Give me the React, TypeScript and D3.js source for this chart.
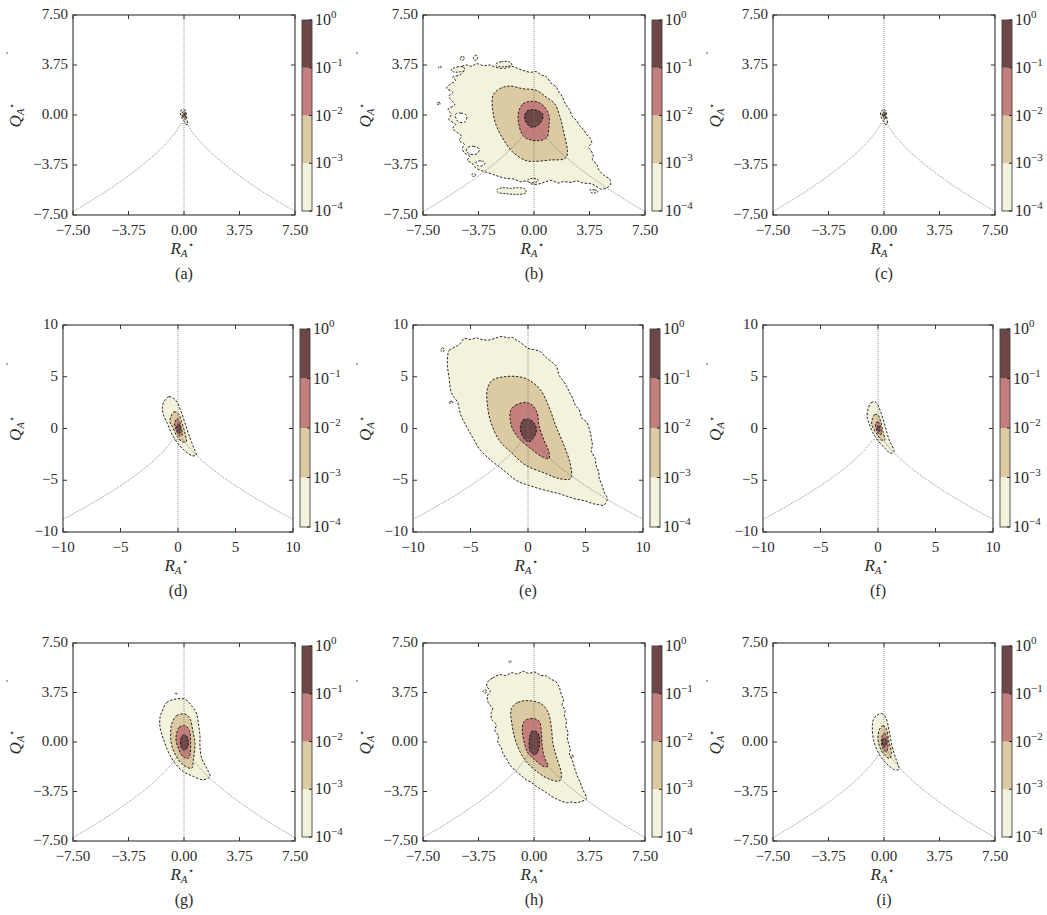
import React from "react";
import * as d3 from "d3";

type Pt = [number, number];

// ---- chart values -------------------------------------------------------
const panelLetters = ["a", "b", "c", "d", "e", "f", "g", "h", "i"];
const rowLimits = [7.5, 10, 7.5];
const rowTicks = [
  [-7.5, -3.75, 0, 3.75, 7.5],
  [-10, -5, 0, 5, 10],
  [-7.5, -3.75, 0, 3.75, 7.5],
];
const pdfLevels = [1e-4, 1e-3, 1e-2, 1e-1, 1];
const levelExponents = ["−4", "−3", "−2", "−1", "0"];
const levelColors = ["#f3f2dc", "#dccaa2", "#c47f7c", "#6d4747"];
const tailSamples = [40, 24, 40];

// (a)
const aL1: Pt[] = [[-0.2, 0.35], [0.0, 0.42], [0.12, 0.3], [0.15, 0.0], [0.2, -0.35], [0.25, -0.7], [0.15, -0.72], [0.0, -0.45], [-0.15, -0.2], [-0.25, 0.1]];
const aL2: Pt[] = [[-0.12, 0.2], [0.05, 0.25], [0.1, 0.0], [0.12, -0.35], [0.03, -0.3], [-0.1, -0.1]];
const aL3: Pt[] = [[-0.06, 0.1], [0.04, 0.12], [0.07, -0.1], [0.0, -0.18], [-0.06, -0.05]];
const aL4: Pt[] = [[-0.03, 0.05], [0.02, 0.05], [0.03, -0.05], [-0.02, -0.06]];

// (b)
const bL1: Pt[] = [[-5.8, 2.2], [-5.3, 2.6], [-5.5, 2.85], [-5.0, 3.0], [-4.75, 3.35], [-4.95, 3.55], [-4.6, 3.75], [-4.2, 3.65], [-3.9, 3.85], [-3.4, 3.7], [-3.0, 3.75], [-2.5, 3.55], [-2.0, 3.5], [-1.5, 3.65], [-1.0, 3.45], [-0.6, 3.3], [-0.25, 3.2], [0.15, 3.25], [0.5, 3.0], [0.85, 2.85], [1.15, 2.4], [1.5, 2.1], [1.7, 1.7], [1.9, 1.4], [2.05, 1.0], [2.2, 0.7], [2.45, 0.3], [2.55, -0.05], [2.85, -0.4], [3.1, -0.8], [3.35, -1.1], [3.55, -1.45], [3.8, -1.75], [3.9, -2.1], [3.7, -2.4], [3.8, -2.6], [4.0, -3.0], [3.95, -3.35], [4.25, -3.7], [4.35, -4.05], [4.7, -4.5], [5.1, -4.8], [5.2, -5.1], [4.95, -5.45], [4.5, -5.55], [4.15, -5.3], [3.8, -5.15], [3.3, -5.1], [2.9, -4.95], [2.5, -5.05], [2.0, -5.0], [1.6, -5.1], [1.2, -4.9], [0.8, -5.0], [0.4, -5.15], [-0.1, -5.2], [-0.5, -4.95], [-0.9, -5.0], [-1.4, -4.8], [-1.9, -4.75], [-2.4, -4.6], [-2.8, -4.45], [-3.2, -4.3], [-3.6, -4.15], [-3.95, -3.95], [-4.2, -3.6], [-4.5, -3.4], [-4.35, -3.1], [-4.7, -2.85], [-4.85, -2.5], [-4.7, -2.2], [-5.05, -1.9], [-4.9, -1.6], [-5.2, -1.3], [-5.5, -1.0], [-5.3, -0.7], [-5.75, -0.35], [-5.6, 0.05], [-5.8, 0.45], [-5.35, 0.75], [-5.5, 1.0], [-5.75, 1.4], [-5.5, 1.7], [-5.9, 2.0]];
const bL2: Pt[] = [[-2.77, 1.47], [-2.32, 1.97], [-1.64, 2.17], [-0.74, 1.97], [0.16, 1.85], [0.83, 1.34], [1.4, 0.84], [1.73, -0.04], [1.96, -1.04], [2.18, -3.18], [1.06, -3.38], [-0.07, -3.48], [-0.52, -3.43], [-1.42, -2.8], [-2.09, -1.8], [-2.55, -0.79], [-2.77, 0.21]];
const bL3: Pt[] = [[-0.97, 0.46], [-0.74, 0.84], [-0.29, 1.02], [0.27, 0.97], [0.72, 0.59], [1.01, -0.04], [1.01, -0.79], [0.88, -1.67], [0.38, -1.92], [-0.29, -1.85], [-0.74, -1.55], [-1.01, -0.79], [-1.08, -0.04]];
const bL4: Pt[] = [[-0.63, -0.04], [-0.47, 0.29], [-0.07, 0.41], [0.38, 0.26], [0.61, 0.01], [0.5, -0.49], [0.16, -0.84], [-0.18, -0.92], [-0.47, -0.67], [-0.61, -0.34]];
const bIslands: Pt[][] = [
  [[-2.6, 3.8], [-2.2, 4.0], [-1.6, 3.95], [-1.5, 3.75], [-2.0, 3.62], [-2.5, 3.66]],
  [[-5.6, 3.4], [-5.2, 3.6], [-4.75, 3.58], [-4.7, 3.35], [-5.1, 3.22], [-5.5, 3.25]],
  [[-4.1, 4.3], [-3.95, 4.5], [-3.8, 4.35], [-3.9, 4.1], [-4.05, 4.15]],
  [[-5.0, 4.3], [-4.8, 4.4], [-4.7, 4.2], [-4.9, 4.1]],
  [[-2.5, -5.6], [-2.1, -5.45], [-1.6, -5.5], [-1.1, -5.45], [-0.6, -5.55], [-0.55, -5.85], [-1.2, -5.95], [-1.9, -5.9], [-2.45, -5.8]],
  [[-0.4, -4.85], [0.0, -4.75], [0.3, -4.9], [0.1, -5.05], [-0.3, -5.05]],
  [[3.8, -5.6], [4.1, -5.62], [4.35, -5.7], [4.1, -5.85], [3.85, -5.8]],
  [[-6.55, 0.9], [-6.4, 0.95], [-6.35, 0.8], [-6.5, 0.78]],
  [[-6.45, 3.62], [-6.3, 3.66], [-6.28, 3.55], [-6.42, 3.52]],
  [[-4.2, -4.45], [-4.0, -4.4], [-3.95, -4.55], [-4.15, -4.6]],
];
const bHoles: Pt[][] = [
  [[-5.3, 0.05], [-4.95, 0.15], [-4.55, -0.05], [-4.65, -0.5], [-5.05, -0.55], [-5.25, -0.3]],
  [[-4.5, -2.45], [-4.1, -2.35], [-3.7, -2.55], [-3.85, -2.9], [-4.3, -2.95], [-4.55, -2.7]],
  [[-3.9, -3.5], [-3.55, -3.45], [-3.3, -3.6], [-3.45, -3.8], [-3.85, -3.78]],
];

// (c)
const cL1: Pt[] = [[-0.18, 0.3], [0.0, 0.4], [0.14, 0.28], [0.16, -0.05], [0.22, -0.4], [0.22, -0.68], [0.1, -0.7], [-0.05, -0.45], [-0.18, -0.2], [-0.24, 0.08]];
const cL2: Pt[] = [[-0.1, 0.18], [0.05, 0.22], [0.1, 0.0], [0.1, -0.32], [0.0, -0.28], [-0.1, -0.08]];
const cL3: Pt[] = [[-0.05, 0.1], [0.04, 0.1], [0.06, -0.1], [0.0, -0.16], [-0.05, -0.04]];
const cL4: Pt[] = [[-0.03, 0.04], [0.02, 0.05], [0.03, -0.05], [-0.02, -0.05]];

// (d)
const dL1: Pt[] = [[-1.22, 2.6], [-0.78, 3.07], [-0.2, 2.75], [0.23, 1.78], [0.52, 0.82], [0.81, -0.14], [1.1, -1.1], [1.39, -1.9], [1.59, -2.55], [1.25, -2.64], [0.67, -2.23], [0.09, -1.59], [-0.49, -0.63], [-0.93, 0.48], [-1.3, 1.44], [-1.36, 2.08]];
const dL2: Pt[] = [[-0.63, 1.12], [-0.35, 1.6], [0.03, 1.44], [0.32, 0.64], [0.61, -0.48], [0.72, -1.28], [0.37, -1.28], [-0.06, -0.8], [-0.49, 0.16], [-0.7, 0.64]];
const dL3: Pt[] = [[-0.26, 0.64], [-0.06, 0.96], [0.14, 0.64], [0.32, -0.16], [0.37, -0.64], [0.14, -0.74], [-0.15, -0.16], [-0.29, 0.32]];
const dL4: Pt[] = [[-0.06, 0.32], [0.09, 0.42], [0.2, -0.1], [0.14, -0.48], [-0.03, -0.32], [-0.11, 0.0]];

// (e)
const eL1: Pt[] = [[-7.0, 6.9], [-6.85, 7.55], [-6.3, 7.9], [-5.9, 8.2], [-5.55, 8.7], [-5.0, 8.6], [-4.5, 8.75], [-4.0, 8.6], [-3.4, 8.55], [-2.9, 8.7], [-2.25, 8.9], [-1.8, 8.75], [-1.35, 8.8], [-1.0, 8.55], [-0.75, 8.4], [-0.3, 8.0], [0.1, 7.7], [0.6, 7.6], [1.1, 7.4], [1.45, 7.0], [1.7, 6.75], [2.1, 6.4], [2.4, 6.1], [2.6, 5.6], [2.7, 5.15], [3.0, 4.7], [3.4, 4.0], [3.6, 3.5], [3.9, 2.9], [4.1, 2.3], [4.45, 1.8], [4.7, 1.0], [5.1, 0.6], [5.4, -0.3], [5.5, -0.9], [5.6, -1.6], [5.5, -2.2], [5.85, -2.9], [5.9, -3.5], [6.15, -4.2], [6.2, -4.8], [6.45, -5.5], [6.6, -6.1], [6.9, -6.8], [6.6, -7.4], [6.1, -7.35], [5.6, -7.25], [5.0, -7.0], [4.1, -6.8], [3.4, -6.55], [2.7, -6.3], [1.8, -6.05], [0.95, -5.8], [0.1, -5.5], [-0.8, -5.15], [-1.4, -4.7], [-1.95, -4.2], [-2.5, -3.7], [-3.1, -3.2], [-3.7, -2.6], [-4.25, -1.95], [-4.7, -1.1], [-5.1, -0.3], [-5.5, 0.5], [-5.85, 1.3], [-6.0, 2.0], [-6.15, 2.6], [-6.5, 3.1], [-6.7, 3.6], [-6.8, 4.2], [-6.85, 4.85], [-6.95, 5.5], [-7.0, 6.1]];
const eL2: Pt[] = [[-3.53, 3.87], [-3.09, 4.68], [-2.08, 5.0], [-0.78, 5.0], [0.09, 4.68], [1.1, 3.71], [1.82, 2.1], [2.4, 0.32], [3.12, -1.61], [3.7, -3.55], [3.7, -4.84], [2.69, -4.84], [1.53, -4.35], [-0.2, -3.55], [-1.36, -2.42], [-2.51, -1.13], [-3.24, 0.65], [-3.53, 2.26]];
const eL3: Pt[] = [[-1.5, 1.77], [-1.07, 2.26], [-0.2, 2.52], [0.38, 2.26], [0.81, 1.45], [0.95, 0.32], [1.39, -1.13], [1.82, -2.26], [1.82, -2.9], [1.24, -2.74], [0.23, -1.94], [-0.78, -0.97], [-1.36, 0.0], [-1.56, 0.97]];
const eL4: Pt[] = [[-0.64, 0.32], [-0.43, 0.81], [0.09, 0.9], [0.61, 0.39], [0.72, -0.32], [0.43, -0.97], [0.09, -1.29], [-0.35, -0.97], [-0.64, -0.32]];
const eIslands: Pt[][] = [
  [[-7.6, 7.6], [-7.42, 7.8], [-7.25, 7.6], [-7.42, 7.42]],
  [[-6.85, 2.58], [-6.55, 2.62], [-6.55, 2.48], [-6.85, 2.46]],
];

// (f)
const fL1: Pt[] = [[-0.9, 1.7], [-0.6, 2.5], [-0.2, 2.55], [0.2, 1.7], [0.5, 0.7], [0.75, -0.3], [1.0, -1.2], [1.4, -2.2], [1.1, -2.4], [0.6, -1.9], [0.1, -1.3], [-0.4, -0.5], [-0.75, 0.4], [-0.95, 1.1]];
const fL2: Pt[] = [[-0.5, 0.9], [-0.3, 1.35], [0.0, 1.3], [0.25, 0.6], [0.45, -0.4], [0.6, -1.1], [0.35, -1.15], [0.0, -0.7], [-0.35, -0.1], [-0.55, 0.4]];
const fL3: Pt[] = [[-0.2, 0.5], [0.0, 0.65], [0.15, 0.4], [0.3, -0.3], [0.25, -0.6], [0.05, -0.5], [-0.15, -0.1]];
const fL4: Pt[] = [[-0.08, 0.2], [0.06, 0.25], [0.15, -0.1], [0.1, -0.3], [-0.03, -0.2]];

// (g)
const gL1: Pt[] = [[-1.51, 2.24], [-1.17, 2.99], [-0.61, 3.24], [0.07, 3.24], [0.52, 2.74], [0.86, 2.12], [0.97, 1.37], [1.08, 0.5], [1.08, -0.37], [1.2, -1.24], [1.53, -1.99], [1.76, -2.61], [1.31, -2.86], [0.63, -2.61], [-0.05, -2.24], [-0.61, -1.61], [-1.06, -0.75], [-1.4, 0.25], [-1.62, 1.12], [-1.62, 1.87]];
const gL2: Pt[] = [[-0.83, 1.37], [-0.5, 1.99], [0.07, 2.12], [0.41, 1.75], [0.59, 0.87], [0.74, -0.12], [0.63, -1.37], [0.52, -1.99], [-0.05, -1.74], [-0.5, -1.12], [-0.83, -0.25], [-0.9, 0.63]];
const gL3: Pt[] = [[-0.5, 0.63], [-0.32, 1.12], [0.07, 1.25], [0.36, 0.87], [0.45, 0.0], [0.41, -0.87], [0.29, -1.24], [-0.05, -1.12], [-0.38, -0.49], [-0.54, 0.13]];
const gL4: Pt[] = [[-0.22, 0.25], [-0.09, 0.5], [0.14, 0.5], [0.29, 0.13], [0.25, -0.37], [0.02, -0.62], [-0.2, -0.37]];
const gIslands: Pt[][] = [[[-0.6, 3.66], [-0.54, 3.72], [-0.48, 3.66], [-0.54, 3.6]]];

// (h)
const hL1: Pt[] = [[-3.1, 4.6], [-2.8, 4.85], [-2.35, 5.1], [-1.9, 5.05], [-1.5, 5.25], [-1.1, 5.15], [-0.75, 5.35], [-0.35, 5.2], [0.05, 5.3], [0.45, 5.05], [0.85, 5.0], [1.15, 4.75], [1.45, 4.6], [1.65, 4.3], [1.75, 4.0], [1.85, 3.6], [2.0, 3.2], [1.9, 2.8], [2.1, 2.4], [2.05, 2.0], [2.2, 1.6], [2.15, 1.2], [2.3, 0.7], [2.25, 0.3], [2.35, -0.15], [2.45, -0.6], [2.4, -0.9], [2.6, -1.4], [2.75, -2.0], [2.9, -2.5], [3.1, -3.0], [3.3, -3.6], [3.55, -4.3], [3.2, -4.5], [2.9, -4.6], [2.5, -4.55], [2.2, -4.6], [1.8, -4.45], [1.5, -4.3], [1.15, -4.1], [0.85, -3.85], [0.5, -3.6], [0.15, -3.35], [-0.2, -3.05], [-0.55, -2.85], [-0.9, -2.5], [-1.2, -2.25], [-1.45, -1.95], [-1.65, -1.7], [-1.85, -1.3], [-2.1, -0.85], [-2.2, -0.45], [-2.45, 0.0], [-2.4, 0.45], [-2.65, 0.9], [-2.55, 1.3], [-2.85, 1.7], [-2.9, 2.15], [-2.8, 2.5], [-3.1, 3.0], [-3.15, 3.5], [-2.95, 3.9], [-3.2, 4.2]];
const hL2: Pt[] = [[-1.53, 2.51], [-1.08, 3.0], [-0.29, 3.13], [0.5, 2.88], [0.95, 2.26], [1.17, 1.14], [1.28, -0.1], [1.51, -1.09], [1.85, -2.46], [1.73, -2.95], [1.06, -2.83], [0.16, -2.21], [-0.63, -1.34], [-1.19, -0.1], [-1.46, 1.14]];
const hL3: Pt[] = [[-0.74, 1.39], [-0.52, 1.69], [0.05, 1.76], [0.38, 1.51], [0.5, 0.65], [0.56, -0.35], [0.72, -1.22], [0.95, -1.84], [0.61, -1.84], [0.05, -1.34], [-0.41, -0.84], [-0.7, 0.15], [-0.79, 0.89]];
const hL4: Pt[] = [[-0.29, 0.4], [-0.18, 0.77], [0.11, 0.84], [0.34, 0.52], [0.38, -0.1], [0.27, -0.72], [0.05, -0.97], [-0.25, -0.72], [-0.34, -0.1]];
const hIslands: Pt[][] = [
  [[-3.45, 3.85], [-3.28, 3.96], [-3.18, 3.8], [-3.32, 3.7]],
  [[-1.7, 6.1], [-1.6, 6.16], [-1.54, 6.05], [-1.64, 6.0]],
  [[2.5, -1.05], [2.62, -1.0], [2.64, -1.15], [2.52, -1.2]],
];

// (i)
const iL1: Pt[] = [[-0.52, 1.99], [-0.18, 2.16], [0.11, 1.87], [0.34, 0.87], [0.56, -0.37], [0.83, -1.37], [1.01, -2.06], [0.72, -2.11], [0.27, -1.74], [-0.29, -1.0], [-0.7, 0.12], [-0.79, 1.12], [-0.74, 1.62]];
const iL2: Pt[] = [[-0.29, 0.99], [-0.07, 1.24], [0.16, 0.99], [0.32, 0.12], [0.5, -0.87], [0.38, -1.24], [0.05, -1.0], [-0.29, -0.37], [-0.41, 0.37]];
const iL3: Pt[] = [[-0.11, 0.5], [0.05, 0.67], [0.2, 0.37], [0.27, -0.37], [0.16, -0.75], [-0.07, -0.5], [-0.18, 0.0]];
const iL4: Pt[] = [[-0.07, 0.25], [0.09, 0.25], [0.16, -0.17], [0.0, -0.37], [-0.11, -0.07]];

const panelLevels: Pt[][][] = [
  [aL1, aL2, aL3, aL4],
  [bL1, bL2, bL3, bL4],
  [cL1, cL2, cL3, cL4],
  [dL1, dL2, dL3, dL4],
  [eL1, eL2, eL3, eL4],
  [fL1, fL2, fL3, fL4],
  [gL1, gL2, gL3, gL4],
  [hL1, hL2, hL3, hL4],
  [iL1, iL2, iL3, iL4],
];
const panelIslands: Pt[][][] = [[], bIslands, [], [], eIslands, [], gIslands, hIslands, []];
const panelHoles: Pt[][][] = [[], bHoles, [], [], [], [], [], [], []];

// ---- layout ---------------------------------------------------------------
const W = 1047;
const H = 915;
const colStep = 350;
const rowBoxes = [
  { left: 73, right: 295, top: 15, bottom: 215, cbTop: 20, cbBottom: 211 },
  { left: 63, right: 293, top: 325, bottom: 532, cbTop: 329, cbBottom: 527 },
  { left: 73, right: 295, top: 643, bottom: 841, cbTop: 646, cbBottom: 837 },
];
const dotY = [53, 364, 681];
const FONT = "'Times New Roman', 'Liberation Serif', serif";
const TXT = "#2a2a2a";

// italic symbol with italic subscript A and a star superscript
const AxisSymbol = ({ sym }: { sym: string }) => (
  <>
    <tspan fontStyle="italic">{sym}</tspan>
    <tspan fontStyle="italic" fontSize={11} dy={3}>A</tspan>
    <tspan fontSize={10} dx={0} dy={-9}>⋆</tspan>
  </>
);

const Panel = ({ idx }: { idx: number }) => {
  const row = Math.floor(idx / 3);
  const col = idx % 3;
  const box = rowBoxes[row];
  const D = rowLimits[row];
  const ox = col * colStep;
  const left = box.left + ox;
  const right = box.right + ox;

  const x = d3.scaleLinear().domain([-D, D]).range([left, right]);
  const y = d3.scaleLinear().domain([-D, D]).range([box.bottom, box.top]);
  const fmt = row === 1 ? d3.format("d") : d3.format(".2f");

  const contour = d3
    .line<Pt>()
    .x((d) => x(d[0]))
    .y((d) => y(d[1]))
    .curve(d3.curveCatmullRomClosed.alpha(0.5));
  const plain = d3
    .line<Pt>()
    .x((d) => x(d[0]))
    .y((d) => y(d[1]));

  // Vieillefosse tail: 27/4 R^2 + Q^3 = 0
  const n = tailSamples[row];
  const tail: Pt[] = d3
    .range(n)
    .map((i) => -D + (2 * D * i) / (n - 1))
    .map((r) => [r, -Math.cbrt((27 / 4) * r * r)] as Pt);

  const cbX = right + 7;
  const cbW = 10;
  const cy = d3.scaleLog().domain([1e-4, 1]).range([box.cbBottom, box.cbTop]);

  const clipId = `clip-${idx}`;
  const ticks = rowTicks[row];
  const cx = (left + right) / 2;
  const cyMid = (box.top + box.bottom) / 2;

  return (
    <g>
      <defs>
        <clipPath id={clipId}>
          <rect x={left} y={box.top} width={right - left} height={box.bottom - box.top} />
        </clipPath>
      </defs>
      <circle cx={ox + 7} cy={dotY[row]} r={0.8} fill="#444" />
      <g clipPath={`url(#${clipId})`}>
        {panelLevels[idx].map((poly, k) => (
          <g key={k}>
            <path d={contour(poly) ?? ""} fill={levelColors[k]} stroke="#111" strokeWidth={0.9} strokeDasharray="2.4,1.6" />
            {k === 0 &&
              panelHoles[idx].map((h, j) => (
                <path key={"h" + j} d={contour(h) ?? ""} fill="#fff" stroke="#111" strokeWidth={0.9} strokeDasharray="2.4,1.6" />
              ))}
          </g>
        ))}
        {panelIslands[idx].map((p, j) => (
          <path key={"i" + j} d={contour(p) ?? ""} fill={levelColors[0]} stroke="#111" strokeWidth={0.9} strokeDasharray="2,1.4" />
        ))}
        <line x1={x(0)} x2={x(0)} y1={box.top} y2={box.bottom} stroke="#777" strokeWidth={0.8} strokeDasharray="1,1" />
        <path d={plain(tail) ?? ""} fill="none" stroke="#777" strokeWidth={0.8} strokeDasharray="1,1" />
      </g>
      {/* frame */}
      <rect x={left} y={box.top} width={right - left} height={box.bottom - box.top} fill="none" stroke="#333" strokeWidth={1.1} />
      {ticks.map((t) => (
        <g key={"t" + t}>
          <line x1={x(t)} x2={x(t)} y1={box.bottom} y2={box.bottom - 4} stroke="#333" />
          <line x1={x(t)} x2={x(t)} y1={box.top} y2={box.top + 4} stroke="#333" />
          <line x1={left} x2={left + 4} y1={y(t)} y2={y(t)} stroke="#333" />
          <line x1={right} x2={right - 4} y1={y(t)} y2={y(t)} stroke="#333" />
          <text x={x(t)} y={box.bottom + 20} textAnchor="middle" fontFamily={FONT} fontSize={15} fill={TXT}>
            {fmt(t)}
          </text>
          <text x={left - 5} y={y(t) + 4} textAnchor="end" fontFamily={FONT} fontSize={15} fill={TXT}>
            {fmt(t)}
          </text>
        </g>
      ))}
      {/* axis labels */}
      <text x={cx - 2} y={box.bottom + 39} textAnchor="middle" fontFamily={FONT} fontSize={17} fill={TXT}>
        <AxisSymbol sym="R" />
      </text>
      <text
        transform={`translate(${ox + 21},${cyMid}) rotate(-90)`}
        textAnchor="middle"
        fontFamily={FONT}
        fontSize={17}
        fill={TXT}
      >
        <AxisSymbol sym="Q" />
      </text>
      <text x={cx} y={box.bottom + 64} textAnchor="middle" fontFamily={FONT} fontSize={16} fill={TXT}>
        ({panelLetters[idx]})
      </text>
      {/* colour bar */}
      {levelColors.map((c, k) => (
        <rect key={"cb" + k} x={cbX} y={cy(pdfLevels[k + 1])} width={cbW} height={cy(pdfLevels[k]) - cy(pdfLevels[k + 1])} fill={c} />
      ))}
      <rect x={cbX} y={box.cbTop} width={cbW} height={box.cbBottom - box.cbTop} fill="none" stroke="#444" strokeWidth={0.9} />
      {pdfLevels.map((lv, k) => (
        <g key={"cl" + k}>
          <line x1={cbX + cbW - 3} x2={cbX + cbW} y1={cy(lv)} y2={cy(lv)} stroke="#222" />
          <text x={cbX + cbW + 3} y={cy(lv) + 5} fontFamily={FONT} fontSize={16} fill={TXT}>
            10
            <tspan fontSize={11} dy={-7}>{levelExponents[k]}</tspan>
          </text>
        </g>
      ))}
    </g>
  );
};

const App = () => (
  <svg width={W} height={H} style={{ position: "absolute", left: 0, top: 0, background: "#fff" }}>
    <rect width={W} height={H} fill="#fff" />
    {panelLetters.map((_, i) => (
      <Panel key={i} idx={i} />
    ))}
  </svg>
);

export default App;
